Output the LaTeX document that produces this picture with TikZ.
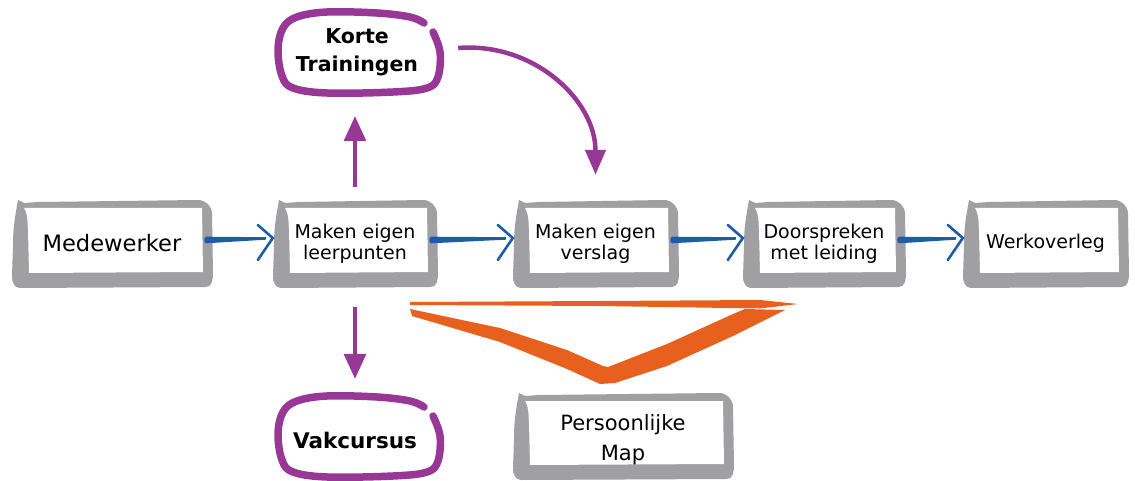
\documentclass[tikz,border=0pt]{standalone}
\usepackage{fontspec}
\setmainfont{DejaVu Sans}
\usetikzlibrary{arrows.meta,calc}
\definecolor{boxgray}{RGB}{160,160,162}
\definecolor{pblue}{RGB}{28,92,168}
\definecolor{ppurple}{RGB}{151,56,150}
\definecolor{porange}{RGB}{232,96,30}
\tikzset{
  boxtext/.style={inner sep=0pt, align=center, font=\fontsize{19}{21}\selectfont},
  ovaltext/.style={inner sep=0pt, align=center, font=\bfseries\fontsize{20.5}{28}\selectfont},
  purplearrow/.style={draw=ppurple, line width=3.2pt, -{Triangle[length=25pt,width=22pt]}},
  curvearrow/.style={draw=ppurple, line width=4.5pt, -{Triangle[length=25pt,width=20pt]}},
  ovalline/.style={draw=ppurple, line width=7.5pt, line cap=round, line join=round},
  blueshaft/.style={fill=pblue},
  bluehead/.style={draw=pblue, line width=2.6pt, line cap=round, line join=miter},
}
% #1 name, #2 L, #3 T, #4 R, #5 B, #6 font options, #7 text
\newcommand\skbox[7]{%
  \fill[boxgray] ({#2+6},{#3}) -- ({#2+12},{#3+3}) -- ({#2+26},{#3+2}) -- ({#4-14},{#3})
     to[out=0,in=90] ({#4},{#3+14}) -- ({#4+1},{#5-14})
     to[out=-90,in=0] ({#4-6},{#5}) -- ({#2+8},{#5+1})
     to[out=180,in=-90] ({#2},{#5-10}) -- ({#2+1},{#3+45})
     to[out=90,in=-100] ({#2+6},{#3}) -- cycle;
  \fill[white] ({#2+12},{#3+8}) -- ({#4-10},{#3+8}) -- ({#4-9},{#5-15})
     -- ({#2+17},{#5-14}) -- ({#2+16},{#3+30}) to[out=95,in=-60] ({#2+12},{#3+8}) -- cycle;
  \node[boxtext, #6, minimum width={(#4-#2)*1pt}, minimum height={(#5-#3)*1pt}]
     (#1) at ({(#2+#4)/2},{(#3+#5)/2}) {#7};
}
\newcommand\bluearrow[2]{%
  \fill[blueshaft] ($(#1.east)+(-6,-6.8)$) -- ($(#2.west)+(-7,-6.3)$)
     -- ($(#2.west)+(-7,-3.8)$) -- ($(#1.east)+(-6,-0.2)$)
     to[out=180,in=180] ($(#1.east)+(-6,-6.8)$) -- cycle;
  \draw[bluehead] ($(#2.west)+(-15,-18.5)$) -- ($(#2.west)+(0,-5.5)$) -- ($(#2.west)+(-15,16.5)$);
}
\begin{document}
\begin{tikzpicture}[x=1pt,y=-1pt]
\useasboundingbox (0,0) rectangle (1135,481);

% boxes
\skbox{med}{12}{200}{212}{287}{font=\fontsize{22.6}{26}\selectfont}{Medewerker}
\skbox{leer}{273}{200}{437}{287}{}{Maken eigen\\leerpunten}
\skbox{vers}{513}{200}{678}{287}{}{Maken eigen\\verslag}
\skbox{door}{743}{200}{905}{287}{}{Doorspreken\\met leiding}
\skbox{werk}{963}{200}{1128}{287}{}{Werkoverleg}
\skbox{map}{513}{393}{733}{479}{font=\fontsize{21}{30}\selectfont, yshift=-4pt}{Persoonlijke\\Map}

% blue arrows
\bluearrow{med}{leer}
\bluearrow{leer}{vers}
\bluearrow{vers}{door}
\bluearrow{door}{werk}

% purple ovals
\draw[ovalline] plot[smooth, tension=0.6] coordinates {(433,32) (440,52) (438,77) (427,88) (393,92) (327,93) (293,88) (282,76) (278,50) (283,28) (297,17) (327,12) (377,13) (410,17) (424,23)};
\node[ovaltext, minimum width=160pt, minimum height=82pt] (korte) at (357,52) {Korte\\Trainingen};
\begin{scope}[shift={(0,384)}]
\draw[ovalline] plot[smooth, tension=0.6] coordinates {(433,32) (440,52) (438,77) (427,88) (393,92) (327,93) (293,88) (282,76) (278,50) (283,28) (297,17) (327,12) (377,13) (410,17) (424,23)};
\end{scope}
\node[ovaltext, font=\bfseries\fontsize{21.5}{26}\selectfont, minimum width=160pt, minimum height=82pt] (vak) at (355,440) {Vakcursus};

% purple arrows
\draw[purplearrow] ([yshift=13pt]leer.north) -- ([yshift=-23pt]leer.north |- korte.south);
\draw[purplearrow] ([yshift=-20pt]leer.south) -- ([yshift=20pt]leer.south |- vak.north);
\draw[curvearrow] ([xshift=21pt,yshift=4pt]korte.east) .. controls +(75,-6) and +(0,-75) .. ([yshift=25pt]vers.north);

% orange bracket
\fill[porange] (410,302) -- (600,301) -- (760,300) -- (798,304) -- (760,308.5) -- (600,306) -- (410,305) -- cycle;
\fill[porange] (410,309) -- (500,328) -- (567,350) -- (603,366) -- (608,367) -- (667,344) -- (733,314)
  -- (745,309) -- (785,310) -- (767,319) -- (733,336) -- (667,366) -- (615,383) -- (600,384)
  -- (567,369) -- (500,342) -- (412,316) -- cycle;
\end{tikzpicture}
\end{document}
